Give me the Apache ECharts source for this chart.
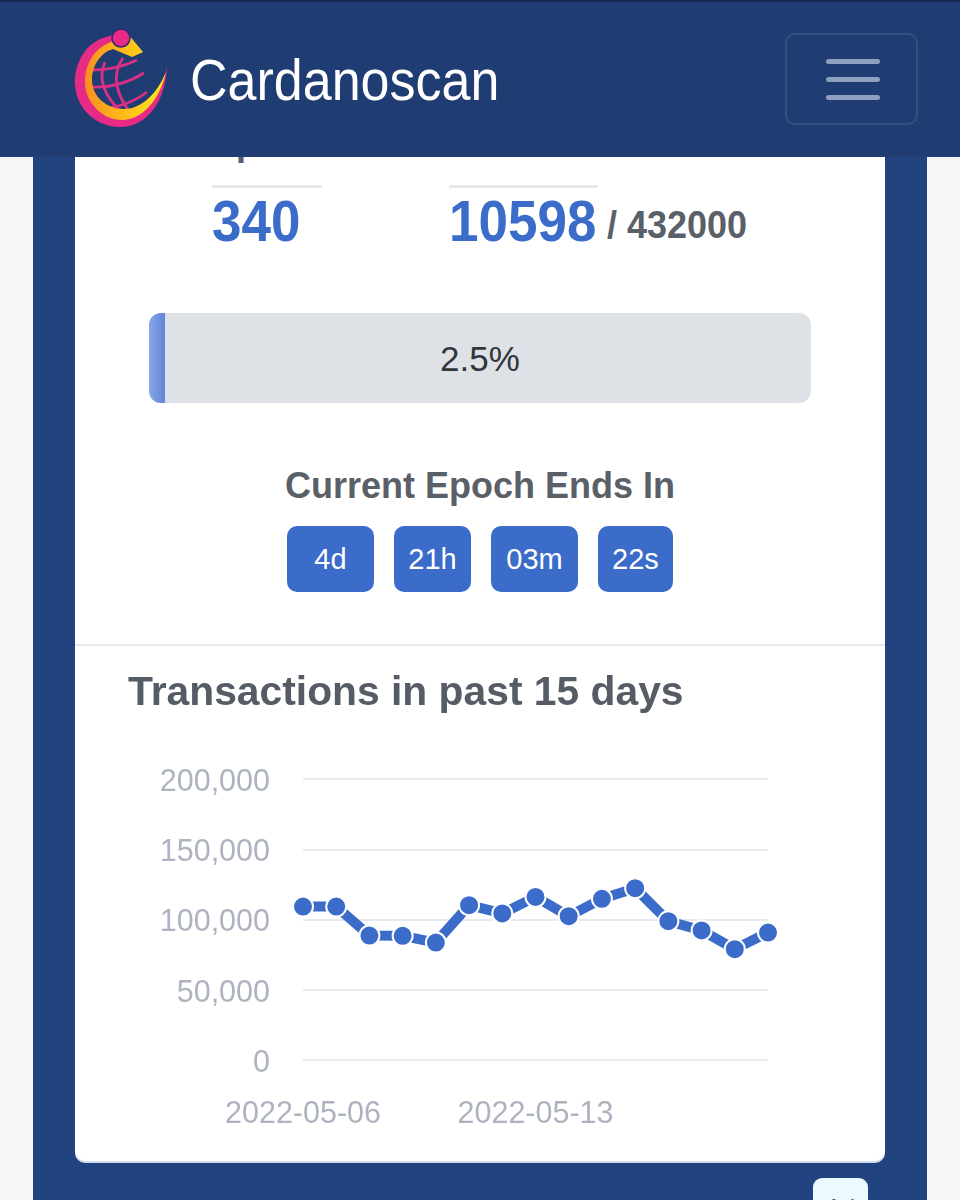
<!DOCTYPE html>
<html>
<head>
<meta charset="utf-8">
<title>Cardanoscan</title>
<script src="https://cdn.jsdelivr.net/npm/echarts@6/dist/echarts.min.js"></script>
<style>
  html, body { margin: 0; padding: 0; }
  body { width: 960px; height: 1200px; position: relative; overflow: hidden; background: #f6f6f9; font-family: "Liberation Sans", sans-serif; }
  .abs { position: absolute; white-space: nowrap; }
  #panel { left: 33px; top: 100px; width: 894px; height: 1100px; background: #21437f; }
  #card { left: 75px; top: 100px; width: 810px; height: 1061px; background: #fff; border-radius: 0 0 10px 10px; box-shadow: 0 2px 0 #d5dcea; }
  #header { left: 0; top: 0; width: 960px; height: 157px; background: #1f3c73; border-top: 2px solid #14294f; box-sizing: border-box; }
  #brand { left: 190px; top: 50px; font-size: 52px; line-height: 60px; color: #fff; transform: scaleY(1.1); }
  #menu { left: 785px; top: 33px; width: 133px; height: 92px; box-sizing: border-box; border: 2px solid #33507f; border-radius: 10px; }
  .bar { left: 826px; width: 54px; height: 5px; border-radius: 3px; background: #8f9fc0; }
  .label { font-size: 36px; font-weight: bold; color: #5a6068; line-height: 40px; }
  .rule { height: 3px; top: 185px; background: #e6e8ee; }
  .big { font-size: 53px; font-weight: bold; color: #3b6cc9; line-height: 60px; top: 191px; transform: scaleY(1.1); }
  #slots { left: 607px; top: 204px; font-size: 36px; font-weight: bold; color: #5a6068; line-height: 42px; transform: scaleY(1.1); }
  #track { left: 149px; top: 313px; width: 662px; height: 90px; border-radius: 12px; background: #dee2e6; overflow: hidden; }
  #fill { left: 0; top: 0; width: 16px; height: 90px; background: linear-gradient(90deg, #8aa6e6, #5f86d8); }
  #pct { left: 149px; top: 338px; width: 662px; text-align: center; font-size: 35px; line-height: 42px; color: #33363b; }
  #ends { left: 75px; top: 464px; width: 810px; text-align: center; font-size: 36px; font-weight: bold; line-height: 44px; color: #5a6068; }
  .count { top: 526px; height: 66px; line-height: 66px; border-radius: 10px; background: #3b6cc9; color: #fff; font-size: 29px; text-align: center; }
  #sep { left: 75px; top: 644px; width: 810px; height: 2px; background: #e8eaee; }
  #chart { left: 75px; top: 650px; width: 810px; height: 510px; }
  #ad { left: 813px; top: 1178px; width: 55px; height: 40px; border-radius: 9px; background: #eafaff; color: #555c66; font-size: 24px; line-height: 36px; text-align: center; padding-top: 12px; box-sizing: content-box; overflow: hidden; }
</style>
</head>
<body>
<div class="abs" id="panel"></div>
<div class="abs" id="card"></div>

<div class="abs label" style="left:212px;top:123px">Epoch</div>
<div class="abs label" style="left:449px;top:123px">Slot</div>
<div class="abs rule" style="left:212px;width:110px"></div>
<div class="abs rule" style="left:449px;width:149px"></div>
<div class="abs big" style="left:212px">340</div>
<div class="abs big" style="left:449px">10598</div>
<div class="abs" id="slots">/ 432000</div>

<div class="abs" id="track"><div class="abs" id="fill"></div></div>
<div class="abs" id="pct">2.5%</div>

<div class="abs" id="ends">Current Epoch Ends In</div>
<div class="abs count" style="left:287px;width:87px">4d</div>
<div class="abs count" style="left:394px;width:77px">21h</div>
<div class="abs count" style="left:491px;width:87px">03m</div>
<div class="abs count" style="left:598px;width:75px">22s</div>

<div class="abs" id="sep"></div>
<div class="abs" id="chart"></div>
<div class="abs" id="ad">Ad</div>

<div class="abs" id="header"></div>
<svg class="abs" style="left:60px;top:20px" width="130" height="120" viewBox="0 0 130 120">
  <defs>
    <linearGradient id="ring" x1="0" y1="0" x2="1" y2="0">
      <stop offset="0" stop-color="#f7901e"/><stop offset="0.6" stop-color="#ffc61a"/><stop offset="1" stop-color="#ffe81a"/>
    </linearGradient>
  </defs>
  <g fill="none" stroke="#d92f87" stroke-width="2.8">
    <path d="M33 50 Q56 50 77 40 M32 67 Q60 68 84 53 M40 88 Q66 88 87 72"/>
    <path d="M45 42 Q34 66 62 93 M63 38 Q46 62 72 95"/>
  </g>
  <path d="M56 15 C24 18 14 46 15 64 C16 90 38 108 62 107 C88 106 106 80 107 46 C102 76 84 97 62 97 C42 97 26 82 26 62 C26 42 40 26 58 24 Z" fill="#e62a86"/>
  <path d="M54 21 C36 26 25 42 25 62 C25 82 42 100 62 100 C82 100 100 80 106 52 C96 76 80 89 64 89 C46 89 32 76 32 60 C32 44 42 32 53 29 L72 37 L83 32 L68 14 Z" fill="url(#ring)"/>
  <circle cx="61" cy="18" r="9" fill="#e62a86" stroke="#2b2a6b" stroke-width="1.5"/>
</svg>
<div class="abs" id="brand">Cardanoscan</div>
<div class="abs" id="menu"></div>
<div class="abs bar" style="top:59px"></div>
<div class="abs bar" style="top:77px"></div>
<div class="abs bar" style="top:95px"></div>

<script>
// 数据
var dates = ['2022-05-06','2022-05-07','2022-05-08','2022-05-09','2022-05-10','2022-05-11','2022-05-12','2022-05-13',
  '2022-05-14','2022-05-15','2022-05-16','2022-05-17','2022-05-18','2022-05-19','2022-05-20'];
var transactions = [109200,109200,88600,88400,83600,110200,104300,116100,102400,114700,122300,98800,92200,78900,90700];
var shownDates = ['2022-05-06','2022-05-13'];

var chart = echarts.init(document.getElementById('chart'));

chart.setOption({
  animation: false,
  title: {
    text: 'Transactions in past 15 days',
    left: 53,
    top: 23,
    padding: 0,
    textStyle: { fontFamily: 'Liberation Sans', fontSize: 40.8, fontWeight: 'bold', color: '#555c66' }
  },
  grid: { left: 228, right: 117, top: 129, height: 281 },
  xAxis: {
    type: 'category',
    data: dates,
    boundaryGap: false,
    axisLine: { show: false },
    axisTick: { show: false },
    axisLabel: {
      interval: function (i, name) { return shownDates.indexOf(name) >= 0; },
      margin: 39,
      fontFamily: 'Liberation Sans',
      fontSize: 30.5,
      color: '#adb3bf'
    }
  },
  yAxis: {
    type: 'value',
    min: 0,
    max: 200000,
    interval: 50000,
    axisLine: { show: false },
    axisTick: { show: false },
    splitLine: { lineStyle: { color: '#e8eaee', width: 2 } },
    axisLabel: {
      margin: 33,
      verticalAlign: 'top',
      padding: [-12, 0, 0, 0],
      fontFamily: 'Liberation Sans',
      fontSize: 30.5,
      color: '#adb3bf',
      formatter: function (v) { return v.toLocaleString('en-US'); }
    }
  },
  series: [{
    type: 'line',
    data: transactions,
    symbol: 'circle',
    showAllSymbol: true,
    symbolSize: 20,
    lineStyle: { color: '#3b6cc9', width: 10 },
    itemStyle: { color: '#3b6cc9', borderColor: '#fff', borderWidth: 2 }
  }]
});
</script>
</body>
</html>
